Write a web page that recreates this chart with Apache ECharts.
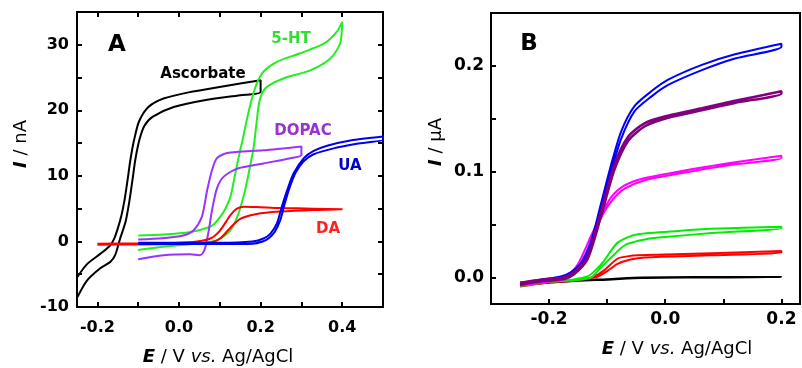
<!DOCTYPE html>
<html>
<head>
<meta charset="utf-8">
<script src="https://cdn.jsdelivr.net/npm/echarts@6/dist/echarts.min.js"></script>
<style>
  html, body { margin: 0; padding: 0; background: #fff; }
  #chart { width: 802px; height: 368px; }
</style>
</head>
<body>
<div id="chart"></div>
<script>
// ---- panel A: CVs, [E (V), I (nA)] ----
var ascFwd = [[-0.25,-8.6],[-0.226,-6.0],[-0.193,-4.1],[-0.168,-3.1],[-0.156,-2.0],[-0.145,0.3],[-0.131,3.0],[-0.122,6.0],[-0.114,9.4],[-0.107,12.5],[-0.097,15.5],[-0.085,17.6],[-0.065,19.0],[-0.013,20.5],[0.069,21.6],[0.15,22.3],[0.2,22.8]];
var ascRev = [[0.2,24.6],[0.15,24.1],[0.085,23.4],[0.028,22.8],[-0.038,21.8],[-0.075,20.5],[-0.098,18.3],[-0.11,15.5],[-0.119,12.5],[-0.126,9.4],[-0.133,6.5],[-0.141,4.0],[-0.15,2.0],[-0.159,0.4],[-0.17,-0.7],[-0.193,-1.9],[-0.226,-3.5],[-0.25,-5.5]];

var htFwd = [[-0.1,-1.3],[-0.04,-0.8],[0.044,-0.3],[0.093,0.2],[0.126,1.7],[0.146,4.3],[0.162,7.8],[0.174,11.4],[0.183,14.4],[0.189,17.5],[0.196,21.0],[0.205,22.8],[0.218,23.7],[0.257,24.9],[0.322,26.1],[0.371,27.9],[0.395,30.2],[0.4,33.5]];
var htRev = [[0.4,33.5],[0.387,32.0],[0.356,30.2],[0.297,28.7],[0.24,27.4],[0.207,25.9],[0.19,24.0],[0.178,21.6],[0.166,18.5],[0.156,15.5],[0.15,13.9],[0.138,10.4],[0.126,6.8],[0.112,4.8],[0.101,3.75],[0.085,2.6],[0.069,2.1],[0.028,1.45],[-0.038,1.05],[-0.1,0.9]];

var dopacFwd = [[-0.1,-2.7],[-0.038,-2.1],[0.028,-1.95],[0.05,-2.1],[0.058,-1.8],[0.065,-0.8],[0.073,1.7],[0.081,4.8],[0.093,8.1],[0.109,9.85],[0.142,11.1],[0.207,11.9],[0.273,12.7],[0.3,13.2]];
var dopacRev = [[0.3,14.5],[0.207,13.9],[0.118,13.5],[0.093,12.7],[0.081,10.9],[0.069,7.8],[0.056,3.75],[0.036,1.7],[0.01,0.9],[-0.04,0.5],[-0.1,0.3]];

var daFwd = [[-0.2,-0.5],[-0.1,-0.45],[0.0,-0.4],[0.05,-0.3],[0.077,-0.2],[0.101,0.45],[0.126,2.1],[0.15,3.45],[0.191,4.2],[0.248,4.55],[0.33,4.8],[0.4,4.9]];
var daRev = [[0.4,5.0],[0.33,5.0],[0.248,5.1],[0.19,5.25],[0.16,5.3],[0.142,5.0],[0.126,4.0],[0.101,1.7],[0.077,0.45],[0.044,0.0],[0.0,-0.2],[-0.1,-0.3],[-0.2,-0.35]];

var uaFwd = [[-0.1,-0.4],[0.0,-0.4],[0.1,-0.4],[0.18,-0.35],[0.205,0.0],[0.22,0.5],[0.235,1.5],[0.248,3.2],[0.258,5.5],[0.27,8.0],[0.285,10.4],[0.305,12.2],[0.33,13.3],[0.379,14.2],[0.436,14.9],[0.5,15.5]];
var uaRev = [[0.5,16.0],[0.42,15.4],[0.363,14.6],[0.33,13.8],[0.306,12.7],[0.281,10.4],[0.265,7.8],[0.252,5.3],[0.24,2.75],[0.224,1.2],[0.207,0.45],[0.18,0.0],[0.1,-0.2],[0.0,-0.2],[-0.1,-0.2]];

// ---- panel B: CVs, [E (V), I (uA)] ----
var bBlackFwd = [[-0.25,-0.007],[-0.15,-0.003],[-0.1,-0.002],[-0.04,-0.0005],[0.05,0.0],[0.2,0.0005]];
var bBlackRev = [[0.2,0.001],[0.05,0.0005],[-0.04,0.0],[-0.1,-0.0015],[-0.15,-0.0025],[-0.25,-0.006]];

var bRedFwd = [[-0.25,-0.0085],[-0.197,-0.0045],[-0.157,-0.003],[-0.134,-0.001],[-0.116,0.001],[-0.1,0.006],[-0.082,0.013],[-0.06,0.017],[-0.035,0.019],[0.08,0.021],[0.2,0.0235]];
var bRedRev = [[0.2,0.025],[0.08,0.023],[-0.047,0.021],[-0.065,0.02],[-0.082,0.018],[-0.105,0.007],[-0.122,0.001],[-0.145,-0.002],[-0.2,-0.004],[-0.25,-0.007]];

var bGreenFwd = [[-0.25,-0.008],[-0.197,-0.004],[-0.157,-0.0025],[-0.128,0.0],[-0.11,0.01],[-0.093,0.019],[-0.078,0.027],[-0.064,0.032],[-0.035,0.036],[-0.006,0.038],[0.08,0.042],[0.2,0.0465]];
var bGreenRev = [[0.2,0.048],[0.08,0.046],[0.022,0.044],[-0.047,0.041],[-0.065,0.038],[-0.082,0.033],[-0.095,0.024],[-0.105,0.016],[-0.12,0.007],[-0.134,0.001],[-0.16,-0.002],[-0.2,-0.004],[-0.25,-0.007]];

var bMagFwd = [[-0.25,-0.0075],[-0.2,-0.004],[-0.17,-0.001],[-0.151,0.008],[-0.134,0.026],[-0.12,0.045],[-0.105,0.062],[-0.09,0.074],[-0.07,0.084],[-0.035,0.092],[0.022,0.098],[0.063,0.102],[0.12,0.107],[0.2,0.113]];
var bMagRev = [[0.2,0.115],[0.12,0.109],[0.063,0.104],[0.022,0.1],[-0.035,0.094],[-0.07,0.087],[-0.093,0.076],[-0.111,0.059],[-0.128,0.039],[-0.151,0.012],[-0.17,0.001],[-0.2,-0.003],[-0.25,-0.006]];

var bBlueFwd = [[-0.25,-0.0065],[-0.215,-0.0035],[-0.18,-0.0015],[-0.163,0.002],[-0.145,0.011],[-0.128,0.029],[-0.111,0.062],[-0.093,0.1],[-0.076,0.131],[-0.053,0.157],[-0.024,0.171],[0.005,0.182],[0.063,0.196],[0.12,0.207],[0.2,0.218]];
var bBlueRev = [[0.2,0.221],[0.12,0.211],[0.063,0.201],[0.005,0.187],[-0.024,0.176],[-0.053,0.162],[-0.076,0.138],[-0.093,0.107],[-0.111,0.069],[-0.128,0.034],[-0.145,0.014],[-0.163,0.005],[-0.18,0.001],[-0.215,-0.002],[-0.25,-0.005]];

var bPurpleFwd = [[-0.25,-0.007],[-0.215,-0.0035],[-0.174,-0.0015],[-0.157,0.003],[-0.134,0.017],[-0.111,0.057],[-0.088,0.101],[-0.064,0.129],[-0.035,0.143],[0.005,0.151],[0.063,0.158],[0.12,0.165],[0.2,0.174]];
var bPurpleRev = [[0.2,0.176],[0.12,0.167],[0.063,0.16],[0.005,0.153],[-0.035,0.146],[-0.064,0.133],[-0.088,0.106],[-0.111,0.062],[-0.134,0.02],[-0.157,0.005],[-0.174,0.0],[-0.215,-0.002],[-0.25,-0.005]];

// ticks / labels
var aXTicks = [-0.2,-0.1,0,0.1,0.2,0.3,0.4];
var aXLabels = [-0.2,0,0.2,0.4];
var aYTicks = [-10,-5,0,5,10,15,20,25,30];
var aYLabels = [-10,0,10,20,30];
var bXTicks = [-0.2,-0.1,0,0.1,0.2];
var bXLabels = [-0.2,0,0.2];
var bYTicks = [0,0.05,0.1,0.15,0.2];
var bYLabels = [0,0.1,0.2];

var FONT = 'DejaVu Sans';
var chart = echarts.init(document.getElementById('chart'));

function axis(o) {
  return {
    type: 'value',
    gridIndex: o.grid,
    position: o.pos,
    min: o.min,
    max: o.max,
    axisLine: { show: true, onZero: false, lineStyle: { color: '#000', width: 2 } },
    axisTick: { show: true, inside: true, length: 5, customValues: o.ticks, lineStyle: { color: '#000', width: 2 } },
    axisLabel: {
      show: !!o.labels,
      customValues: o.labels || [],
      formatter: o.fmt,
      margin: o.margin,
      color: '#000',
      fontFamily: FONT,
      fontWeight: 'bold',
      fontSize: o.size || 16
    },
    splitLine: { show: false }
  };
}

function cv(name, fwd, rev, color, xi, yi, w) {
  return {
    name: name,
    type: 'line',
    xAxisIndex: xi,
    yAxisIndex: yi,
    data: fwd.concat(rev),
    showSymbol: false,
    symbol: 'none',
    smooth: 0.25,
    clip: true,
    lineStyle: { color: color, width: w || 2 },
    emphasis: { disabled: true },
    animation: false
  };
}

function fix1(v) { return v.toFixed(1); }
function intg(v) { return String(Math.round(v)); }

function label(txt, x, y, color, size) {
  return {
    type: 'text', x: x, y: y,
    style: { text: txt, fill: color, font: 'bold ' + size + 'px "' + FONT + '"',
      align: 'center', verticalAlign: 'middle', textAlign: 'center', textVerticalAlign: 'middle' }
  };
}

function title(txt, x, y, rot) {
  var base = { fontSize: 18, fontFamily: FONT, color: '#000' };
  return {
    type: 'text', x: x, y: y, rotation: rot || 0,
    style: {
      text: txt, fill: '#000', fontSize: 18, fontFamily: FONT,
      align: 'center', verticalAlign: 'middle', textAlign: 'center', textVerticalAlign: 'middle',
      rich: {
        b: Object.assign({ fontWeight: 'bold', fontStyle: 'italic' }, base),
        i: Object.assign({ fontStyle: 'italic' }, base),
        n: base
      }
    }
  };
}

chart.setOption({
  animation: false,
  backgroundColor: '#fff',
  grid: [
    { left: 77, top: 12, width: 306, height: 295, show: true, borderColor: '#000', borderWidth: 2, backgroundColor: 'transparent' },
    { left: 491, top: 13, width: 309, height: 291, show: true, borderColor: '#000', borderWidth: 2, backgroundColor: 'transparent' }
  ],
  xAxis: [
    axis({ grid: 0, pos: 'bottom', min: -0.25, max: 0.5, ticks: aXTicks, labels: aXLabels, fmt: fix1, margin: 13 }),
    axis({ grid: 0, pos: 'top', min: -0.25, max: 0.5, ticks: aXTicks }),
    axis({ grid: 1, pos: 'bottom', min: -0.3, max: 0.232, ticks: bXTicks, labels: bXLabels, fmt: fix1, margin: 7, size: 17 })
  ],
  yAxis: [
    axis({ grid: 0, pos: 'left', min: -10, max: 35, ticks: aYTicks, labels: aYLabels, fmt: intg, margin: 8 }),
    axis({ grid: 0, pos: 'right', min: -10, max: 35, ticks: aYTicks }),
    axis({ grid: 1, pos: 'left', min: -0.025, max: 0.25, ticks: bYTicks, labels: bYLabels, fmt: fix1, margin: 7, size: 17 })
  ],
  series: [
    cv('Ascorbate', ascFwd, ascRev, '#000000', 0, 0),
    cv('5-HT', htFwd, htRev, '#22ee22', 0, 0),
    cv('DOPAC', dopacFwd, dopacRev, '#9933ff', 0, 0),
    cv('DA', daFwd, daRev, '#ff0000', 0, 0),
    cv('UA', uaFwd, uaRev, '#0000ee', 0, 0),
    cv('b0', bBlackFwd, bBlackRev, '#000000', 2, 2),
    cv('b1', bRedFwd, bRedRev, '#ff0000', 2, 2),
    cv('b2', bGreenFwd, bGreenRev, '#00ee00', 2, 2),
    cv('b3', bMagFwd, bMagRev, '#ff00ff', 2, 2),
    cv('b4', bBlueFwd, bBlueRev, '#0000ff', 2, 2),
    cv('b5', bPurpleFwd, bPurpleRev, '#800080', 2, 2, 2.5)
  ],
  graphic: [
    label('A', 117, 45, '#000', 23),
    label('B', 529, 44, '#000', 23),
    label('Ascorbate', 203, 74, '#000', 15),
    label('5-HT', 291, 39, '#33dd33', 15),
    label('DOPAC', 303, 131, '#9933cc', 15),
    label('UA', 350, 166, '#0000cc', 15),
    label('DA', 328, 229, '#ff2222', 15),
    title('{b|E}{n| / V }{i|vs.}{n| Ag/AgCl}', 218, 357),
    title('{b|E}{n| / V }{i|vs.}{n| Ag/AgCl}', 677, 349),
    title('{b|I}{n| / nA}', 21, 144, Math.PI / 2),
    title('{b|I}{n| / \u03bcA}', 436, 142, Math.PI / 2)
  ]
});
</script>
</body>
</html>
